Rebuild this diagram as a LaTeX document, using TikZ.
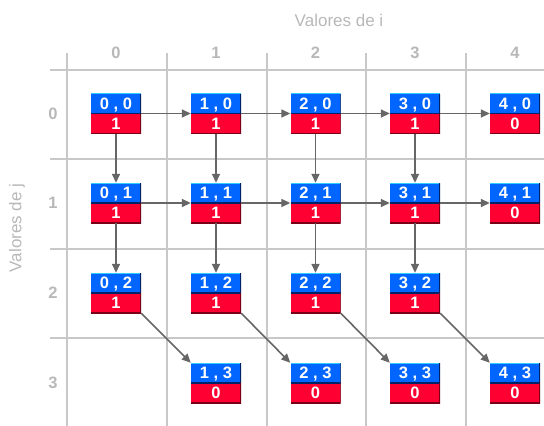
\documentclass[tikz,border=0pt]{standalone}
\usepackage{fontspec}
\setmainfont{Liberation Sans}
\usetikzlibrary{arrows.meta}
\definecolor{cblue}{HTML}{0066FF}
\definecolor{cred}{HTML}{FF0033}
\definecolor{clight}{HTML}{33CCFF}
\definecolor{cdarkb}{HTML}{002266}
\definecolor{cdarkr}{HTML}{7A0018}
\definecolor{cgrid}{HTML}{C8C8C8}
\definecolor{clabel}{HTML}{B8B8B8}
\definecolor{carrow}{HTML}{666666}
\tikzset{
  cell/.style={minimum width=50pt, minimum height=40pt, inner sep=0pt, align=center,
    text=white, font=\fontsize{16.5}{20}\selectfont\bfseries,
    path picture={
      \fill[cblue] (path picture bounding box.north west) rectangle ([yshift=20pt]path picture bounding box.south east);
      \fill[cred] (path picture bounding box.south west) rectangle ([yshift=20pt]path picture bounding box.south east);
      \draw[clight, line width=1.2pt] (path picture bounding box.north west) -- (path picture bounding box.north east);
      \draw[cdarkb, line width=1.2pt] ([yshift=20pt]path picture bounding box.south west) -- ([yshift=20pt]path picture bounding box.south east);
      \draw[cdarkr, line width=1.4pt] (path picture bounding box.south west) -- (path picture bounding box.south east) -- ([yshift=20pt]path picture bounding box.south east);
      \draw[cdarkb, line width=1.4pt] ([yshift=20pt]path picture bounding box.south east) -- (path picture bounding box.north east);
    }},
  gridline/.style={cgrid, line width=1.6pt},
  axlabel/.style={text=clabel, font=\fontsize{16.5}{18}\selectfont\bfseries, inner sep=0pt},
  axtitle/.style={text=clabel, font=\fontsize{17}{18}\selectfont, inner sep=0pt},
  link/.style={carrow, line width=1.6pt, -{Triangle[length=9pt, width=8pt]}}
}
\begin{document}
\begin{tikzpicture}[x=1pt, y=-1pt]
\useasboundingbox (0,0) rectangle (544,426);
% grid
\foreach \gx in {67,167,267,366,466} \draw[gridline] (\gx,53) -- (\gx,426);
\foreach \gy in {70,159,249,338} \draw[gridline] (50,\gy) -- (544,\gy);
% titles
\node[axtitle] (ti) at (339,20) {Valores de i};
\node[axtitle, rotate=90] (tj) at (17,228) {Valores de j};
% column labels
\foreach \i/\cx in {0/116,1/216,2/315.5,3/415,4/515}
  \node[axlabel] (c\i) at (\cx,53) {\i};
\foreach \j/\ry in {0/114,1/203,2/293,3/383}
  \node[axlabel] (r\j) at (53,\ry) {\j};
% cells
\foreach \i/\cx in {0/116,1/216,2/315.5,3/415,4/515}{
  \foreach \j/\ry in {0/113.5,1/203,2/293,3/383}{
    \coordinate (p\i\j) at (\cx,\ry);
  }
}
\node[cell] (n00) at (p00) {0 , 0\\1};
\node[cell] (n10) at (p10) {1 , 0\\1};
\node[cell] (n20) at (p20) {2 , 0\\1};
\node[cell] (n30) at (p30) {3 , 0\\1};
\node[cell] (n40) at (p40) {4 , 0\\0};
\node[cell] (n01) at (p01) {0 , 1\\1};
\node[cell] (n11) at (p11) {1 , 1\\1};
\node[cell] (n21) at (p21) {2 , 1\\1};
\node[cell] (n31) at (p31) {3 , 1\\1};
\node[cell] (n41) at (p41) {4 , 1\\0};
\node[cell] (n02) at (p02) {0 , 2\\1};
\node[cell] (n12) at (p12) {1 , 2\\1};
\node[cell] (n22) at (p22) {2 , 2\\1};
\node[cell] (n32) at (p32) {3 , 2\\1};
\node[cell] (n13) at (p13) {1 , 3\\0};
\node[cell] (n23) at (p23) {2 , 3\\0};
\node[cell] (n33) at (p33) {3 , 3\\0};
\node[cell] (n43) at (p43) {4 , 3\\0};
% arrows
\foreach \a/\b in {0/1,1/2,2/3,3/4}{
  \draw[link] (n\a0.east) -- (n\b0.west);
  \draw[link] (n\a1.east) -- (n\b1.west);
  \draw[link] (n\a2.south east) -- (n\b3.north west);
}
\foreach \a in {0,1,2,3}{
  \draw[link] (n\a0.south) -- (n\a1.north);
  \draw[link] (n\a1.south) -- (n\a2.north);
}
\end{tikzpicture}
\end{document}
